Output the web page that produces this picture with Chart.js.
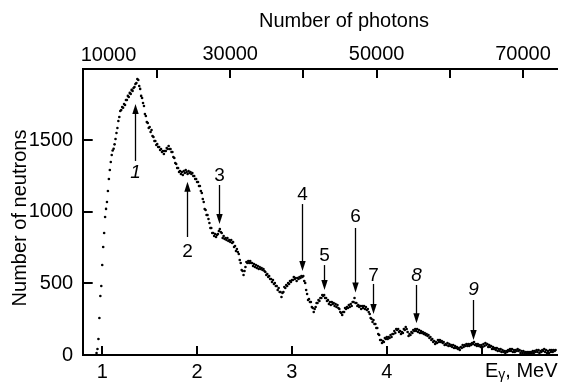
<!DOCTYPE html>
<html>
<head>
<meta charset="utf-8">
<script src="https://cdn.jsdelivr.net/npm/chart.js@4/dist/chart.umd.min.js"></script>
<style>
  html, body { margin: 0; padding: 0; background: #fff; }
  #wrap { width: 561px; height: 383px; position: relative; }
</style>
</head>
<body>
<div id="wrap"><canvas id="spectrum"></canvas></div>
<script>
// energy grid of the measured channels (MeV)
const energyStart = 0.94;
const energyStep = 0.01;

// neutron counts per channel (0.94 ... 5.78 MeV)
const neutronCounts = [
    14, 42, 112, 258, 412, 482, 628, 754, 852, 964,
    1020, 1068, 1145, 1229, 1292, 1348, 1397, 1428, 1440, 1471,
    1508, 1550, 1585, 1634, 1662, 1704, 1711, 1732, 1726, 1753,
    1746, 1781, 1781, 1809, 1802, 1830, 1823, 1851, 1844, 1864,
    1871, 1892, 1899, 1927, 1920, 1878, 1858, 1809, 1795, 1760,
    1739, 1683, 1669, 1627, 1620, 1585, 1592, 1557, 1571, 1529,
    1522, 1494, 1494, 1466, 1473, 1452, 1452, 1431, 1438, 1417,
    1424, 1403, 1424, 1424, 1445, 1438, 1459, 1438, 1438, 1417,
    1417, 1383, 1376, 1341, 1334, 1306, 1306, 1278, 1285, 1264,
    1278, 1257, 1285, 1271, 1292, 1278, 1264, 1285, 1271, 1278,
    1264, 1271, 1250, 1250, 1229, 1229, 1208, 1208, 1180, 1180,
    1145, 1131, 1089, 1068, 1019, 1012, 978, 978, 950, 922,
    887, 887, 852, 852, 831, 845, 824, 838, 845, 866,
    880, 859, 852, 817, 831, 810, 817, 803, 817, 796,
    803, 789, 803, 782, 789, 754, 761, 726, 740, 719,
    705, 663, 642, 594, 587, 559, 587, 614, 649, 642,
    656, 642, 656, 642, 642, 621, 635, 614, 628, 607,
    621, 601, 614, 601, 608, 594, 601, 587, 580, 559,
    566, 545, 552, 531, 531, 510, 524, 496, 503, 482,
    482, 454, 468, 440, 440, 405, 433, 440, 475, 468,
    489, 482, 503, 496, 517, 510, 524, 524, 545, 531,
    538, 517, 538, 531, 545, 538, 552, 545, 552, 517,
    503, 454, 426, 384, 391, 370, 370, 335, 328, 300,
    321, 335, 363, 363, 384, 377, 398, 398, 419, 412,
    419, 398, 398, 377, 384, 356, 370, 349, 370, 356,
    363, 342, 356, 335, 349, 328, 321, 300, 293, 279,
    300, 300, 328, 321, 335, 328, 349, 335, 356, 342,
    370, 370, 398, 363, 363, 342, 349, 335, 342, 321,
    342, 328, 342, 321, 335, 314, 321, 300, 286, 258,
    251, 230, 244, 216, 216, 189, 189, 147, 140, 105,
    105, 84, 98, 91, 119, 112, 126, 112, 126, 119,
    140, 126, 147, 147, 168, 154, 182, 175, 182, 161,
    168, 147, 161, 154, 182, 175, 196, 182, 161, 133,
    147, 140, 161, 154, 175, 168, 182, 168, 182, 161,
    175, 154, 168, 154, 161, 147, 154, 140, 147, 133,
    140, 119, 126, 105, 112, 91, 98, 77, 91, 84,
    105, 91, 105, 91, 98, 84, 91, 70, 77, 70,
    84, 63, 77, 63, 70, 56, 70, 49, 63, 49,
    56, 42, 49, 35, 56, 49, 70, 56, 70, 63,
    77, 63, 77, 63, 77, 70, 84, 77, 91, 70,
    77, 63, 77, 63, 70, 56, 70, 56, 77, 63,
    84, 70, 77, 56, 70, 56, 63, 42, 56, 42,
    49, 35, 49, 28, 42, 28, 42, 21, 35, 21,
    28, 14, 28, 21, 35, 28, 42, 28, 42, 21,
    35, 21, 35, 28, 42, 28, 35, 14, 28, 14,
    28, 14, 21, 7, 21, 7, 21, 7, 21, 14,
    28, 14, 28, 21, 35, 21, 35, 14, 28, 21,
    35, 28, 42, 21, 35, 14, 28, 14, 35, 21,
    35, 21, 35, 28, 35
];

// axis ticks
const energyTicks = [1, 2, 3, 4, 5];
const energyTickLabels = ["1", "2", "3", "4", ""];
const photonTicks = [20000, 30000, 40000, 50000, 60000, 70000];
const photonTickLabels = ["", "30000", "", "50000", "", "70000"];
const neutronTicks = [0, 500, 1000, 1500];
const neutronTickLabels = ["0", "500", "1000", "1500"];

// marked structures: arrow position (MeV), tail / tip / label height (counts)
const peakLabels = ["1", "2", "3", "4", "5", "6", "7", "8", "9"];
const peakEnergy = [1.343, 1.894, 2.236, 3.107, 3.333, 3.660, 3.860, 4.307, 4.913];
const arrowTail = [1355, 824, 1187, 1054, 628, 887, 496, 489, 384];
const arrowTip = [1753, 1210, 915, 587, 454, 436, 286, 221, 105];
const labelLevel = [1271, 719, 1250, 1117, 691, 967, 552, 552, 454];
const italicLabels = ["1", "8", "9"];

const FONT = "'Liberation Sans', Arial, sans-serif";
Chart.defaults.font.family = FONT;
Chart.defaults.color = "#000";

const points = neutronCounts.map((n, i) => ({
    x: +(energyStart + i * energyStep).toFixed(2),
    y: n
}));

function drawLine(ctx, x1, y1, x2, y2) {
    ctx.beginPath();
    ctx.moveTo(x1, y1);
    ctx.lineTo(x2, y2);
    ctx.stroke();
}

const overlayPlugin = {
    id: "overlay",
    afterDraw(chart) {
        const { ctx, chartArea, scales } = chart;
        const xs = scales.x, xt = scales.x2, ys = scales.y;
        ctx.save();

        // inward tick marks
        ctx.strokeStyle = "#000";
        ctx.lineWidth = 2;
        energyTicks.forEach(v => {
            const px = Math.round(xs.getPixelForValue(v));
            drawLine(ctx, px, chartArea.bottom, px, chartArea.bottom - 9);
        });
        photonTicks.forEach(v => {
            const px = Math.round(xt.getPixelForValue(v));
            drawLine(ctx, px, chartArea.top, px, chartArea.top + 9);
        });
        neutronTicks.slice(1).forEach(v => {
            const py = Math.round(ys.getPixelForValue(v));
            drawLine(ctx, chartArea.left, py, chartArea.left + 10, py);
        });

        // axis titles
        ctx.fillStyle = "#000";
        ctx.textBaseline = "middle";
        ctx.font = "20px " + FONT;
        ctx.textAlign = "left";
        ctx.fillText("10000", chartArea.left - 2, 55);

        ctx.textAlign = "center";
        ctx.fillText("Number of photons", 344, 21);

        ctx.save();
        ctx.translate(20, 218);
        ctx.rotate(-Math.PI / 2);
        ctx.fillText("Number of neutrons", 0, 0);
        ctx.restore();

        // E_gamma, MeV
        let ex = 485;
        const ey = 371;
        ctx.textAlign = "left";
        ctx.font = "20px " + FONT;
        ctx.fillText("E", ex, ey);
        ex += ctx.measureText("E").width;
        ctx.font = "14px " + FONT;
        ctx.fillText("\u03b3", ex, ey + 4);
        ex += ctx.measureText("\u03b3").width;
        ctx.font = "20px " + FONT;
        ctx.fillText(", MeV", ex, ey);

        // arrows
        ctx.lineWidth = 1.3;
        peakLabels.forEach((lab, i) => {
            const px = Math.round(xs.getPixelForValue(peakEnergy[i])) + 0.5;
            const yTail = ys.getPixelForValue(arrowTail[i]);
            const yTip = ys.getPixelForValue(arrowTip[i]);
            const dir = yTip < yTail ? 1 : -1;
            drawLine(ctx, px, yTail, px, yTip + dir * 6);
            ctx.beginPath();
            ctx.moveTo(px, yTip);
            ctx.lineTo(px - 3.2, yTip + dir * 10);
            ctx.lineTo(px + 3.2, yTip + dir * 10);
            ctx.closePath();
            ctx.fill();

            ctx.font = (italicLabels.includes(lab) ? "italic " : "") + "19px " + FONT;
            ctx.textAlign = "center";
            ctx.fillText(lab, px, ys.getPixelForValue(labelLevel[i]));
        });

        ctx.restore();
    }
};

const ctx = document.getElementById("spectrum").getContext("2d");

new Chart(ctx, {
    type: "scatter",
    data: {
        datasets: [{
            data: points,
            pointRadius: 1.3,
            pointBorderWidth: 0,
            pointBackgroundColor: "#000",
            showLine: false
        }]
    },
    options: {
        responsive: true,
        maintainAspectRatio: false,
        animation: false,
        layout: { padding: { left: 0, right: 2, top: 0, bottom: 0 } },
        plugins: {
            legend: { display: false },
            tooltip: { enabled: false }
        },
        scales: {
            x: {
                type: "linear",
                position: "bottom",
                min: 0.794,
                max: 5.795,
                afterBuildTicks: s => { s.ticks = energyTicks.map(v => ({ value: v })); },
                afterFit: s => { s.height = 28; },
                grid: { display: false, drawTicks: false },
                border: { display: true, color: "#000", width: 2 },
                ticks: {
                    padding: 5,
                    maxRotation: 0,
                    font: { size: 20 },
                    callback: v => energyTickLabels[energyTicks.indexOf(v)]
                }
            },
            x2: {
                type: "linear",
                position: "top",
                min: 9850,
                max: 74650,
                afterBuildTicks: s => { s.ticks = photonTicks.map(v => ({ value: v })); },
                afterFit: s => { s.height = 69; },
                grid: { display: false, drawTicks: false },
                border: { display: true, color: "#000", width: 2 },
                ticks: {
                    padding: 3,
                    maxRotation: 0,
                    autoSkip: false,
                    font: { size: 20 },
                    callback: v => photonTickLabels[photonTicks.indexOf(v)]
                }
            },
            y: {
                min: 0,
                max: 1997,
                afterBuildTicks: s => { s.ticks = neutronTicks.map(v => ({ value: v })); },
                afterFit: s => { s.width = 82.7; },
                grid: { display: false, drawTicks: false },
                border: { display: true, color: "#000", width: 2 },
                ticks: {
                    padding: 9.5,
                    font: { size: 20 },
                    callback: v => neutronTickLabels[neutronTicks.indexOf(v)]
                }
            }
        }
    },
    plugins: [overlayPlugin]
});
</script>
</body>
</html>
